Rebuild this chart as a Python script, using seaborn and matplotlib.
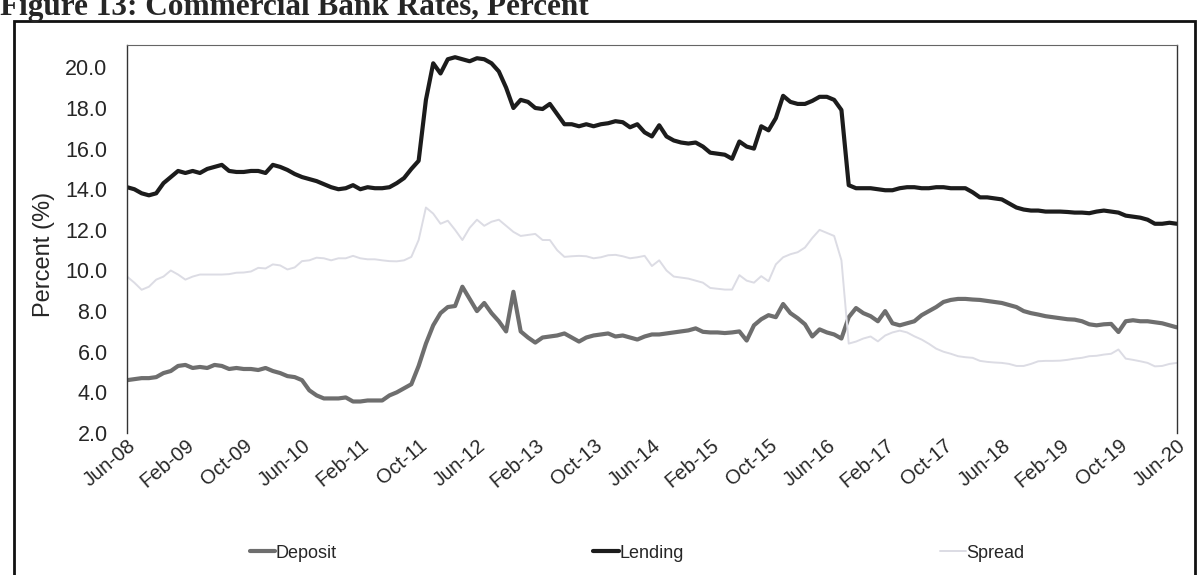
import matplotlib
matplotlib.use("Agg")
import matplotlib.pyplot as plt
import seaborn as sns
import pandas as pd
import numpy as np
from matplotlib.patches import Rectangle

tick_labels = ["Jun-08", "Feb-09", "Oct-09", "Jun-10", "Feb-11", "Oct-11", "Jun-12",
               "Feb-13", "Oct-13", "Jun-14", "Feb-15", "Oct-15", "Jun-16", "Feb-17",
               "Oct-17", "Jun-18", "Feb-19", "Oct-19", "Jun-20"]

lending = [14.1, 14.0, 13.8, 13.7, 13.8, 14.3, 14.6, 14.9, 14.8, 14.9,
           14.8, 15.0, 15.1, 15.2, 14.9, 14.85, 14.85, 14.9, 14.9, 14.8,
           15.2, 15.1, 14.95, 14.75, 14.6, 14.5, 14.4, 14.25, 14.1, 14.0,
           14.05, 14.2, 14.0, 14.1, 14.05, 14.05, 14.1, 14.3, 14.55, 15.0,
           15.4, 18.4, 20.2, 19.7, 20.4, 20.5, 20.4, 20.3, 20.45, 20.4,
           20.2, 19.8, 19.0, 18.0, 18.4, 18.3, 18.0, 17.95, 18.2, 17.7,
           17.2, 17.2, 17.1, 17.2, 17.1, 17.2, 17.25, 17.35, 17.3, 17.05,
           17.2, 16.8, 16.6, 17.15, 16.6, 16.4, 16.3, 16.25, 16.3, 16.1,
           15.8, 15.75, 15.7, 15.5, 16.35, 16.1, 16.0, 17.1, 16.9, 17.5,
           18.6, 18.3, 18.2, 18.2, 18.35, 18.55, 18.55, 18.4, 17.9, 14.2,
           14.05, 14.05, 14.05, 14.0, 13.95, 13.95, 14.05, 14.1, 14.1, 14.05,
           14.05, 14.1, 14.1, 14.05, 14.05, 14.05, 13.85, 13.6, 13.6, 13.55,
           13.5, 13.3, 13.1, 13.0, 12.95, 12.95, 12.9, 12.9, 12.9, 12.88,
           12.85, 12.85, 12.82, 12.9, 12.95, 12.9, 12.85, 12.7, 12.65, 12.6,
           12.5, 12.3, 12.3, 12.35, 12.3]

deposit = [4.6, 4.65, 4.7, 4.7, 4.75, 4.95, 5.05, 5.3, 5.35, 5.2,
           5.25, 5.2, 5.35, 5.3, 5.15, 5.2, 5.15, 5.15, 5.1, 5.2,
           5.05, 4.95, 4.8, 4.75, 4.6, 4.1, 3.85, 3.7, 3.7, 3.7,
           3.75, 3.55, 3.55, 3.6, 3.6, 3.6, 3.85, 4.0, 4.2, 4.4,
           5.3, 6.4, 7.3, 7.9, 8.2, 8.25, 9.2, 8.6, 8.0, 8.4,
           7.9, 7.5, 7.0, 8.95, 7.0, 6.7, 6.45, 6.7, 6.75, 6.8,
           6.9, 6.7, 6.5, 6.7, 6.8, 6.85, 6.9, 6.75, 6.8, 6.7,
           6.6, 6.75, 6.85, 6.85, 6.9, 6.95, 7.0, 7.05, 7.15, 6.98,
           6.95, 6.95, 6.92, 6.95, 7.0, 6.55, 7.3, 7.6, 7.8, 7.7,
           8.35, 7.9, 7.65, 7.35, 6.75, 7.1, 6.95, 6.85, 6.65, 7.7,
           8.15, 7.9, 7.75, 7.5, 8.0, 7.4, 7.3, 7.4, 7.5, 7.8,
           8.0, 8.2, 8.45, 8.55, 8.6, 8.6, 8.57, 8.55, 8.5, 8.45,
           8.4, 8.3, 8.2, 8.0, 7.9, 7.83, 7.75, 7.7, 7.65, 7.6,
           7.58, 7.5, 7.35, 7.3, 7.35, 7.37, 6.97, 7.5, 7.55, 7.5,
           7.5, 7.45, 7.4, 7.3, 7.2]

spread = [9.7, 9.4, 9.05, 9.2, 9.55, 9.7, 10.0, 9.8, 9.55, 9.7,
          9.8, 9.8, 9.8, 9.8, 9.82, 9.89, 9.9, 9.95, 10.13, 10.1,
          10.3, 10.25, 10.05, 10.15, 10.46, 10.5, 10.63, 10.6, 10.5, 10.6,
          10.6, 10.72, 10.6, 10.55, 10.55, 10.5, 10.46, 10.45, 10.5, 10.67,
          11.5, 13.1, 12.8, 12.3, 12.45, 12.0, 11.5, 12.1, 12.5, 12.2,
          12.4, 12.5, 12.2, 11.9, 11.7, 11.75, 11.8, 11.5, 11.5, 11.0,
          10.67, 10.7, 10.72, 10.7, 10.6, 10.65, 10.75, 10.77, 10.7, 10.6,
          10.65, 10.72, 10.22, 10.5, 10.0, 9.7, 9.65, 9.6, 9.5, 9.4,
          9.14, 9.1, 9.06, 9.06, 9.77, 9.5, 9.4, 9.72, 9.47, 10.3,
          10.65, 10.8, 10.9, 11.13, 11.6, 12.0, 11.85, 11.7, 10.5, 6.4,
          6.5, 6.65, 6.75, 6.51, 6.8, 6.95, 7.04, 6.95, 6.76, 6.6,
          6.39, 6.15, 6.0, 5.9, 5.78, 5.73, 5.7, 5.55, 5.5, 5.47,
          5.45, 5.4, 5.3, 5.3, 5.4, 5.53, 5.55, 5.55, 5.56, 5.6,
          5.66, 5.7, 5.78, 5.8, 5.86, 5.9, 6.11, 5.66, 5.6, 5.53,
          5.45, 5.28, 5.3, 5.4, 5.45]

series_names = ["Deposit", "Lending", "Spread"]
series_colors = {"Deposit": "#6e6e6e", "Lending": "#1c1c1c", "Spread": "#dcdce4"}
series_widths = {"Deposit": 3.0, "Lending": 3.0, "Spread": 1.4}

n = len(lending)
month_idx = np.arange(n)
df = pd.DataFrame({"Month": np.concatenate([month_idx] * 3),
                   "Rate": deposit + lending + spread,
                   "Series": ["Deposit"] * n + ["Lending"] * n + ["Spread"] * n})

sns.set_style("white")
plt.rcParams["font.family"] = ["Liberation Sans", "DejaVu Sans"]

fig = plt.figure(figsize=(12.02, 5.75), dpi=100)
ax = fig.add_axes([0.1057, 0.247, 0.8733, 0.6747])

for name in series_names:
    sns.lineplot(data=df[df["Series"] == name], x="Month", y="Rate", ax=ax,
                 color=series_colors[name], linewidth=series_widths[name],
                 label=name, legend=False)

ax.set_xlim(0, n - 1)
ax.set_ylim(2.0, 21.1)
ax.set_yticks(np.arange(2, 21, 2))
ax.set_yticklabels([f"{v:.1f}" for v in np.arange(2, 21, 2)], fontsize=15.5)
ax.set_xticks(np.arange(0, n, 8))
ax.set_xticklabels(tick_labels, fontsize=14.5, rotation=40, ha="right",
                   rotation_mode="anchor")
ax.tick_params(axis="y", length=0, pad=14)
ax.tick_params(axis="x", length=0, pad=2)
ax.set_xlabel("")
ax.set_ylabel("Percent (%)", fontsize=17)
ax.yaxis.set_label_coords(-0.069, 0.46)

for side in ["left", "right"]:
    ax.spines[side].set_visible(True)
    ax.spines[side].set_color("#333333")
    ax.spines[side].set_linewidth(1.0)
ax.spines["top"].set_color("#666666")
ax.spines["top"].set_linewidth(0.8)
ax.spines["bottom"].set_visible(False)

handles, labels = ax.get_legend_handles_labels()
fig.legend(handles, labels, loc="center", bbox_to_anchor=(0.53, 0.038),
           ncol=3, frameon=False, fontsize=13, handlelength=1.4,
           handletextpad=0.05, columnspacing=14.2)

# outer frame
fig.patches.append(Rectangle((14 / 1202, -0.05), (1195 - 14) / 1202, 1.05 - 21 / 575,
                             transform=fig.transFigure, fill=False,
                             edgecolor="#111111", linewidth=2.0))

fig.text(0.0, 1 - 15 / 575, "Figure 13: Commercial Bank Rates, Percent",
         fontsize=22.5, fontweight="bold", family=["Liberation Serif", "DejaVu Serif"],
         va="baseline", ha="left")

fig.savefig("out.png", dpi=100)
